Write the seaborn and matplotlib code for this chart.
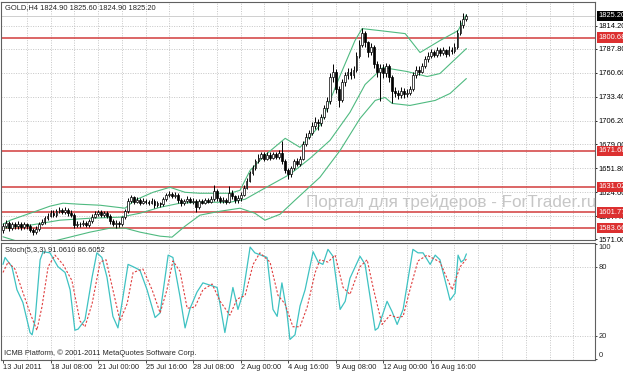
import numpy as np
import pandas as pd
import matplotlib
matplotlib.use("Agg")
import matplotlib.pyplot as plt
import seaborn as sns

# ---------------- data ----------------
header_text = "GOLD,H4 1824.90 1825.60 1824.90 1825.20"
stoch_text = "Stoch(5,3,3) 91.0610 86.6052"
copyright_text = "ICMB Platform, \u00a9 2001-2011 MetaQuotes Software Corp."
watermark_text = "Портал для трейдеров - ForTrader.ru"

opens = [
1582,1586,1590,1584,1588,1586,1589,1585,1588,1586,
1582,1579,1583,1589,1591,1595,1598,1601,1599,1603,
1604,1602,1605,1601,1599,1587,1589,1588,1590,1587,
1592,1597,1600,1602,1599,1601,1598,1592,1589,1590,
1588,1596,1603,1615,1619,1614,1616,1613,1615,1614,
1613,1615,1610,1612,1611,1617,1621,1623,1620,1622,
1616,1612,1615,1617,1614,1615,1608,1615,1613,1616,
1614,1617,1626,1618,1615,1616,1614,1624,1620,1616,
1618,1622,1630,1638,1646,1652,1660,1664,1668,1663,
1667,1664,1668,1665,1669,1660,1650,1645,1652,1660,
1657,1663,1680,1688,1692,1700,1705,1703,1710,1720,
1728,1756,1762,1742,1730,1750,1758,1762,1758,1764,
1780,1792,1806,1795,1784,1790,1770,1762,1766,1760,
1768,1756,1740,1738,1735,1740,1736,1738,1742,1758,
1764,1762,1768,1776,1780,1784,1781,1786,1783,1786,
1782,1787,1785,1790,1806,1815,1822]
closes = [
1586,1590,1584,1588,1586,1589,1585,1588,1586,1582,
1579,1583,1589,1591,1595,1598,1601,1599,1603,1604,
1602,1605,1601,1599,1587,1589,1588,1590,1587,1592,
1597,1600,1602,1599,1601,1598,1592,1589,1590,1588,
1596,1603,1615,1619,1614,1616,1613,1615,1614,1613,
1615,1610,1612,1611,1617,1621,1623,1620,1622,1616,
1612,1615,1617,1614,1615,1608,1615,1613,1616,1614,
1617,1626,1618,1615,1616,1614,1624,1620,1616,1618,
1622,1630,1638,1646,1652,1660,1664,1668,1663,1667,
1664,1668,1665,1669,1660,1650,1645,1652,1660,1657,
1663,1680,1688,1692,1700,1705,1703,1710,1720,1728,
1756,1762,1742,1730,1750,1758,1762,1758,1764,1780,
1792,1806,1795,1784,1790,1770,1762,1766,1760,1768,
1756,1740,1738,1735,1740,1736,1738,1742,1758,1764,
1762,1768,1776,1780,1784,1781,1786,1783,1786,1782,
1787,1785,1790,1806,1815,1822,1825.2]
highs = [
1590,1593,1592,1591,1591,1592,1591,1591,1590,1588,
1584,1586,1591,1594,1598,1601,1604,1604,1606,1608,
1607,1608,1607,1604,1601,1592,1591,1593,1592,1594,
1600,1603,1605,1604,1603,1603,1600,1594,1593,1592,
1598,1606,1618,1622,1620,1619,1618,1618,1617,1616,
1618,1617,1615,1614,1619,1624,1626,1625,1625,1624,
1618,1617,1620,1619,1618,1617,1617,1617,1618,1618,
1620,1633,1628,1620,1619,1618,1632,1627,1622,1621,
1625,1633,1641,1649,1656,1663,1668,1671,1670,1670,
1670,1671,1670,1673,1683,1662,1652,1655,1663,1664,
1666,1683,1692,1696,1704,1710,1708,1714,1724,1733,
1760,1770,1765,1746,1754,1762,1766,1766,1768,1784,
1798,1812,1808,1797,1794,1792,1774,1770,1770,1772,
1770,1758,1744,1741,1744,1743,1742,1746,1762,1768,
1768,1772,1780,1784,1788,1787,1790,1789,1790,1788,
1791,1790,1794,1809,1821,1828,1827]
lows = [
1578,1584,1581,1582,1583,1583,1582,1583,1583,1579,
1576,1577,1581,1587,1589,1593,1596,1597,1597,1601,
1600,1600,1598,1596,1584,1585,1585,1586,1585,1585,
1590,1595,1598,1597,1597,1595,1589,1586,1584,1585,
1586,1594,1601,1612,1611,1612,1610,1611,1611,1610,
1611,1607,1608,1608,1609,1615,1619,1618,1618,1613,
1609,1610,1613,1612,1611,1602,1606,1611,1611,1612,
1612,1615,1615,1612,1613,1611,1612,1617,1612,1613,
1615,1620,1628,1636,1644,1650,1658,1662,1660,1661,
1661,1662,1662,1663,1657,1646,1640,1642,1650,1654,
1655,1661,1677,1685,1690,1697,1696,1700,1708,1716,
1725,1750,1738,1722,1727,1746,1754,1754,1755,1762,
1777,1790,1790,1778,1781,1766,1756,1728,1755,1756,
1750,1726,1733,1731,1732,1732,1733,1735,1740,1755,
1758,1760,1766,1773,1777,1778,1779,1780,1781,1778,
1780,1782,1783,1788,1803,1812,1820]

# Bollinger bands (bar index, price)
upper_t = [0,2.4,10.1,15.8,20.2,25.9,32.7,41.1,44.4,50.5,56.2,61.3,66.3,76.4,79.8,
           83.2,88.2,95.0,100.0,106.7,113.5,118.5,120.9,126.9,135.4,140.4,147.1,153.2,156]
upper_v = [1588.3,1592.8,1601.9,1608.8,1612.2,1611.0,1609.9,1606.5,1615.6,1624.6,1630.3,
           1624.6,1623.5,1623.5,1626.9,1649.6,1666.7,1686.0,1675.7,1700.7,1757.5,1797.2,
           1810.8,1808.5,1805.1,1783.6,1797.2,1808.5,1826.7]
middle_t = [0,9.1,19.2,29.3,39.4,46.1,52.9,59.6,66.3,76.4,81.5,87.5,96.6,103.4,110.1,
            116.8,121.9,127.9,136.0,142.8,147.1,156]
middle_v = [1583.8,1587.2,1592.9,1595.1,1596.3,1600.8,1607.6,1612.2,1613.3,1613.3,1616.7,
            1628.1,1645.1,1663.3,1683.7,1715.5,1747.2,1766.5,1762.0,1756.3,1759.7,1788.1]
lower_t = [0,5.7,15.8,29.3,36.0,41.1,46.1,52.9,56.9,61.3,66.3,73.1,79.8,84.8,88.2,93.3,
           98.3,106.7,113.5,120.2,125.3,128.6,131.0,137.0,145.5,150.5,156]
lower_v = [1574.0,1568.0,1568.0,1579.3,1583.8,1583.8,1579.3,1574.7,1573.6,1586.1,1598.6,
           1603.1,1606.5,1600.8,1592.9,1599.7,1615.6,1641.7,1672.3,1708.6,1729.1,1732.5,
           1725.7,1723.4,1729.1,1737.0,1754.0]

# Stochastic (bar index, value)
k_t = [0,0.7,3.0,4.7,6.7,9.1,9.8,10.8,12.5,13.5,15.8,18.5,20.9,22.6,24.2,25.3,27.6,30.0,
       31.6,33.3,35.0,37.0,38.7,40.4,42.1,43.8,46.1,48.5,51.2,52.9,55.6,57.2,59.6,61.3,63.0,
       65.3,67.3,69.7,72.1,74.7,77.4,79.1,80.8,83.2,84.8,88.9,90.9,92.3,93.9,95.6,96.6,98.3,
       100.0,101.7,104.4,106.1,107.7,109.4,111.1,113.5,115.2,116.8,120.2,121.9,125.3,126.3,
       129.3,131.0,132.7,134.7,138.0,139.7,141.4,143.8,145.5,147.1,150.5,152.2,153.2,154.2,
       155.2,156]
k_v = [82,88,80,60,49,23,21,34,86,93,92,80,75,60,25,26,34,71,92,88,71,37,27,54,82,80,77,
       60,36,40,90,88,54,27,44,58,66,64,62,23,62,43,57,97,92,88,43,37,66,40,17,21,46,60,93,
       84,82,95,89,43,50,70,89,82,25,27,50,41,30,43,95,92,92,82,90,86,51,57,90,84,86,91.06]
d_t = [0,1.7,4.0,6.4,9.1,11.4,13.1,15.2,17.5,20.2,23.2,25.9,27.6,30.0,32.7,34.7,37.0,39.4,
       41.8,43.8,47.1,50.2,52.9,55.2,57.2,59.6,62.0,64.6,67.3,70.4,73.1,76.4,78.8,81.5,84.2,
       86.5,89.9,92.6,94.9,97.6,100.0,102.4,105.1,106.7,109.4,111.8,114.5,116.8,120.2,122.6,
       124.6,127.6,130.3,132.7,134.7,137.0,139.7,142.8,147.1,151.2,153.9,156]
d_v = [75,84,78,60,40,25,45,80,90,82,68,33,28,48,84,86,60,33,48,75,78,60,40,60,85,76,44,
       45,60,65,50,38,52,55,82,92,84,55,48,28,28,45,75,86,84,90,62,56,80,86,62,30,38,36,37,
       60,85,90,84,60,80,86.61]

levels = [1800.68, 1671.68, 1631.02, 1601.77, 1583.66]
level_labels = ["1800.68", "1671.68", "1631.02", "1601.77", "1583.66"]
last_price = 1825.20
price_ticks = [1814.20, 1787.80, 1760.60, 1733.40, 1706.20, 1679.00, 1651.80, 1624.60, 1597.40, 1571.00]
stoch_ticks = [0, 20, 80, 100]
date_labels = ["13 Jul 2011", "18 Jul 08:00", "21 Jul 00:00", "25 Jul 16:00", "28 Jul 08:00",
               "2 Aug 00:00", "4 Aug 16:00", "9 Aug 08:00", "12 Aug 00:00", "16 Aug 16:00"]
date_bars = [0, 16, 32, 48, 64, 80, 96, 112, 128, 144]

# ---------------- style ----------------
sns.set_style("white")
plt.rcParams['font.family'] = ['Liberation Sans', 'DejaVu Sans']
FS = 5.4
band_col = "#4fba80"
red_col = "#d23c3c"
grid_col = "#b4b4b4"
spine_col = "#606060"

W, H = 623, 373
fig = plt.figure(figsize=(W / 100, H / 100), dpi=100)
fig.patch.set_facecolor("white")

def fx(p):
    return p / W

def fy(p):
    return 1 - p / H

ax = fig.add_axes([fx(1), fy(240), fx(595) - fx(1), fy(2) - fy(240)])
ax2 = fig.add_axes([fx(1), fy(359.5), fx(595) - fx(1), fy(242.5) - fy(359.5)])

xmin, xmax = -0.67, 199.3
for a in (ax, ax2):
    a.set_xlim(xmin, xmax)
    for s in a.spines.values():
        s.set_color(spine_col)
        s.set_linewidth(0.8)
    for k in range(1, 25):
        a.axvline(8 * k, color=grid_col, lw=0.5, ls=(0, (1.5, 2)), zorder=0.5)

ax.set_ylim(1570.35, 1841.06)
ax2.set_ylim(-0.35, 100.95)

# grid horizontals
for p in price_ticks[:-1]:
    ax.axhline(p, color=grid_col, lw=0.5, ls=(0, (1.5, 2)), zorder=0.5)
for v in (20, 80):
    ax2.axhline(v, color=grid_col, lw=0.5, ls=(0, (1.5, 2)), zorder=0.5)

# watermark
fig.text(fx(306), fy(202), watermark_text, color="#c6c6c6", fontsize=12.3,
         ha="left", va="center", zorder=0)

# bid line and level lines
ax.axhline(last_price, color="#c8c8c8", lw=0.6, zorder=1)
for lv in levels:
    ax.axhline(lv, color=red_col, lw=1.1, zorder=2)

# Bollinger bands
for t, v in ((upper_t, upper_v), (middle_t, middle_v), (lower_t, lower_v)):
    sns.lineplot(x=t, y=v, ax=ax, color=band_col, linewidth=0.8,
                 estimator=None, sort=False, zorder=2.5)

# candles
df = pd.DataFrame({"o": opens, "h": highs, "l": lows, "c": closes})
df["x"] = np.arange(len(df))
ax.vlines(df["x"], df["l"], df["h"], color="black", lw=0.7, zorder=3)
up = df[df["c"] >= df["o"]]
dn = df[df["c"] < df["o"]]
ax.bar(up["x"], np.maximum(up["c"] - up["o"], 0.6), bottom=up["o"], width=0.62,
       facecolor="white", edgecolor="black", linewidth=0.5, zorder=4)
ax.bar(dn["x"], np.maximum(dn["o"] - dn["c"], 0.6), bottom=dn["c"], width=0.62,
       facecolor="black", edgecolor="black", linewidth=0.5, zorder=4)

# stochastic
sns.lineplot(x=k_t, y=k_v, ax=ax2, color="#3ec2c2", linewidth=0.9,
             estimator=None, sort=False, zorder=3)
sns.lineplot(x=d_t, y=d_v, ax=ax2, color="#e04040", linewidth=0.8,
             estimator=None, sort=False, zorder=3.5, linestyle=(0, (2, 1.6)))

# axes ticks
ax.set_xticks([])
ax.set_xlabel("")
ax.set_ylabel("")
ax.yaxis.tick_right()
ax.set_yticks(price_ticks)
ax.set_yticklabels([f"{p:.2f}" for p in price_ticks])
ax.tick_params(axis="y", right=True, length=1.5, width=0.6, pad=1, labelsize=FS,
               colors="black")

ax2.set_xlabel("")
ax2.set_ylabel("")
ax2.yaxis.tick_right()
ax2.set_yticks(stoch_ticks)
ax2.set_yticklabels([str(v) for v in stoch_ticks])
for lab, v in zip(ax2.get_yticklabels(), stoch_ticks):
    if v == 100:
        lab.set_va("top")
    elif v == 0:
        lab.set_va("bottom")
ax2.tick_params(axis="y", right=True, length=1.5, width=0.6, pad=1, labelsize=FS)
ax2.set_xticks(date_bars)
ax2.set_xticklabels(date_labels, ha="left")
ax2.tick_params(axis="x", bottom=True, length=2.5, width=0.6, pad=1, labelsize=FS)

# price boxes on the right
for lv, txt in zip(levels, level_labels):
    ax.annotate(txt, xy=(1.0062, lv), xycoords=ax.get_yaxis_transform(),
                ha="left", va="center", fontsize=FS, color="white",
                bbox=dict(boxstyle="square,pad=0.22", fc="#dc3030", ec="none"),
                annotation_clip=False, zorder=10)
ax.annotate(f"{last_price:.2f}", xy=(1.0062, last_price), xycoords=ax.get_yaxis_transform(),
            ha="left", va="center", fontsize=FS, color="white",
            bbox=dict(boxstyle="square,pad=0.22", fc="black", ec="none"),
            annotation_clip=False, zorder=10)

# texts
fig.text(fx(5), fy(7.5), header_text, fontsize=FS, ha="left", va="center")
fig.text(fx(5), fy(250), stoch_text, fontsize=FS, ha="left", va="center")
fig.text(fx(4), fy(353), copyright_text, fontsize=FS, ha="left", va="center")

fig.savefig("out.png", dpi=100, facecolor="white")
